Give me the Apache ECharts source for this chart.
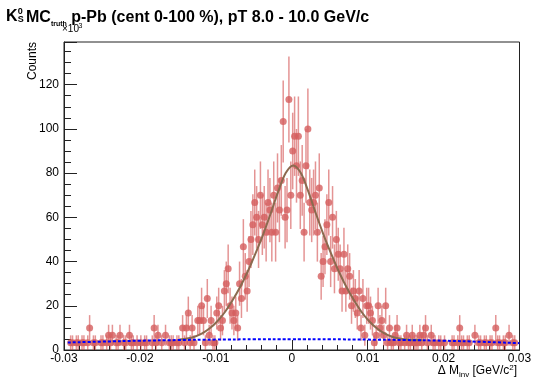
<!DOCTYPE html>
<html><head><meta charset="utf-8">
<script src="https://cdn.jsdelivr.net/npm/echarts@6/dist/echarts.min.js"></script>
<style>html,body{margin:0;padding:0;background:#fff}#c{width:535px;height:382px}</style>
</head><body><div id="c"></div>
<script>
// Histogram definition (x in GeV/c^2, counts in units of 10^3)
const X_MIN = -0.03, X_MAX = 0.03, N_BINS = 240;
const ENTRY_WEIGHT = 3.333; // counts (x10^3) carried by one entry -> error = sqrt(w * value)
const counts = [
  0, 0, 0, 3.3, 3.3, 0, 3.3, 3.3, 0, 3.3,
  3.3, 0, 3.3, 10, 0, 3.3, 3.3, 0, 0, 3.3,
  3.3, 0, 3.3, 6.7, 3.3, 6.7, 0, 3.3, 3.3, 6.7,
  0, 3.3, 3.3, 0, 6.7, 3.3, 3.3, 0, 3.3, 0,
  3.3, 0, 3.3, 3.3, 0, 0, 3.3, 10, 3.3, 6.7,
  0, 3.3, 0, 6.7, 0, 3.3, 3.3, 3.3, 0, 3.3,
  3.3, 0, 10, 3.3, 10, 16.7, 3.3, 10, 3.3, 0,
  13.3, 13.3, 20, 13.3, 3.3, 23.3, 6.7, 13.3, 3.3, 3.3,
  16.7, 20, 10, 13.3, 26.7, 30, 36.7, 20, 16.7, 13.3,
  16.7, 10, 30, 23.3, 46.7, 33.3, 26.7, 40, 50, 56.7,
  66.7, 60, 50, 70, 56.7, 60, 53.3, 66.7, 63.3, 53.3,
  70, 53.3, 73.3, 63.3, 76.7, 103.3, 60, 63.3, 113.3, 70,
  90, 96.7, 83.3, 96.7, 70, 76.7, 53.3, 83.3, 100, 66.7,
  63.3, 66.7, 70, 53.3, 73.3, 33.3, 40, 46.7, 56.7, 66.7,
  40, 60, 36.7, 50, 43.3, 36.7, 26.7, 43.3, 26.7, 36.7,
  33.3, 20, 26.7, 23.3, 16.7, 26.7, 10, 23.3, 6.7, 20,
  20, 16.7, 13.3, 3.3, 6.7, 20, 10, 13.3, 6.7, 20,
  3.3, 10, 3.3, 3.3, 6.7, 10, 3.3, 3.3, 0, 3.3,
  6.7, 3.3, 3.3, 6.7, 3.3, 3.3, 3.3, 6.7, 3.3, 6.7,
  10, 3.3, 0, 6.7, 3.3, 3.3, 0, 3.3, 3.3, 0,
  3.3, 0, 0, 0, 3.3, 3.3, 0, 3.3, 10, 3.3,
  3.3, 0, 3.3, 3.3, 0, 0, 6.7, 0, 3.3, 3.3,
  0, 3.3, 3.3, 0, 3.3, 3.3, 0, 10, 3.3, 3.3,
  0, 3.3, 3.3, 0, 6.7, 0, 3.3, 3.3, 0, 0
];
// Fit (signal + background)
const fitX = [-0.0148,-0.0138,-0.0128,-0.0118,-0.0108,-0.0098,-0.0088,-0.0078,-0.0068,-0.0058,-0.0048,-0.0038,-0.0028,-0.0018,-0.0008,0.0002,
  0.0012,0.0022,0.0032,0.0042,0.0052,0.0062,0.0072,0.0082,0.0092,0.0102,0.0112,0.0122,0.0132,0.0142,0.0152,0.0162,0.0172];
const fitY = [4.8,5.2,6.0,7.5,9.8,13.0,17.2,22.5,28.5,35.5,43.5,52.0,61.5,71.5,80.0,83.5,
  80.0,71.5,61.5,52.0,43.5,35.5,28.5,22.5,17.2,13.0,9.8,7.5,6.0,5.2,4.8,4.6,4.5];
// Background component
const bkgX = [-0.0295,-0.025,-0.02,-0.015,-0.01,-0.005,0,0.005,0.01,0.015,0.02,0.025,0.03];
const bkgY = [3.4,3.8,4.2,4.5,4.7,4.85,4.9,4.85,4.7,4.5,4.2,3.7,3.1];
// Tick labels
const xTickLabels = ['-0.03','-0.02','-0.01','0','0.01','0.02','0.03'];
const yTickLabels = ['0','20','40','60','80','100','120'];

const FONT = 'Liberation Sans, Arial, Helvetica, sans-serif';
const binW = (X_MAX - X_MIN) / N_BINS;
const hist = [];
counts.forEach((v, i) => { if (v > 0) hist.push([X_MIN + (i + 0.5) * binW, v, Math.sqrt(ENTRY_WEIGHT * v)]); });

const chart = echarts.init(document.getElementById('c'), null, {renderer: 'canvas', width: 535, height: 382});
chart.setOption({
  animation: false,
  backgroundColor: '#fff',
  grid: {left: 64, right: 15.5, top: 42, bottom: 32, show: true, borderColor: '#222', borderWidth: 1, backgroundColor: 'transparent'},
  xAxis: {
    type: 'value', min: X_MIN, max: X_MAX, interval: 0.01,
    axisLine: {show: true, onZero: false, lineStyle: {color: '#222', width: 1}},
    axisTick: {show: true, inside: true, length: 10, lineStyle: {color: '#222'}},
    minorTick: {show: true, splitNumber: 5, length: 5, lineStyle: {color: '#222'}},
    splitLine: {show: false},
    axisLabel: {margin: 3, fontSize: 12, color: '#000', fontFamily: FONT,
      formatter: v => { const k = Math.round((v - X_MIN) / 0.01); return Math.abs(v - (X_MIN + k * 0.01)) < 1e-9 ? xTickLabels[k] : ''; }}
  },
  yAxis: {
    type: 'value', min: 0, max: 139.3, interval: 20,
    axisLine: {show: true, onZero: false, lineStyle: {color: '#222', width: 1}},
    axisTick: {show: true, inside: true, length: 13, lineStyle: {color: '#222'}},
    minorTick: {show: true, splitNumber: 4, length: 7, lineStyle: {color: '#222'}},
    splitLine: {show: false},
    axisLabel: {margin: 5, fontSize: 12, color: '#000', fontFamily: FONT, showMaxLabel: false,
      formatter: v => { const k = Math.round(v / 20); return (Math.abs(v - k * 20) < 1e-6 && k < yTickLabels.length) ? yTickLabels[k] : ''; }}
  },
  graphic: [
    {type: 'text', x: 6, y: 16.5, style: {text: 'K', font: 'bold 16px ' + FONT, fill: '#000', verticalAlign: 'middle'}},
    {type: 'text', x: 17.8, y: 12, style: {text: '0', font: 'bold 9px ' + FONT, fill: '#000', verticalAlign: 'middle'}},
    {type: 'text', x: 17.8, y: 19.5, style: {text: 'S', font: 'bold 9px ' + FONT, fill: '#000', verticalAlign: 'middle'}},
    {type: 'text', x: 26, y: 18, style: {
      text: '{b|MC}{s|truth}{b| p-Pb (cent 0-100 %), pT 8.0 - 10.0 GeV/c}', verticalAlign: 'middle', fill: '#000',
      rich: {b: {font: 'bold 16px ' + FONT, lineHeight: 19, fill: '#000'},
             s: {font: 'bold 7px ' + FONT, lineHeight: 8, verticalAlign: 'bottom', fill: '#000'}}}},
    {type: 'text', x: 62, y: 29.5, style: {text: '\u00d710', font: '10px ' + FONT, fill: '#000', verticalAlign: 'middle'}},
    {type: 'text', x: 78.5, y: 26, style: {text: '3', font: '7px ' + FONT, fill: '#000', verticalAlign: 'middle'}},
    {type: 'text', x: 32.5, y: 42, rotation: Math.PI / 2, style: {text: 'Counts', font: '12px ' + FONT, fill: '#000', align: 'right', verticalAlign: 'middle'}},
    {type: 'text', x: 517, y: 371, style: {
      text: '{n|\u0394 M}{d|inv}{n| [GeV/c}{u|2}{n|]}', align: 'right', verticalAlign: 'middle', fill: '#000',
      rich: {n: {font: '12px ' + FONT, lineHeight: 15, fill: '#000'},
             d: {font: '8px ' + FONT, lineHeight: 9, verticalAlign: 'bottom', fill: '#000'},
             u: {font: '8px ' + FONT, lineHeight: 9, verticalAlign: 'top', fill: '#000'}}}}
  ],
  series: [
    {
      type: 'custom', data: hist, z: 2, clip: true,
      renderItem: (params, api) => {
        const x = api.value(0), y = api.value(1), e = api.value(2);
        const p1 = api.coord([x, Math.max(0, y - e)]);
        const p2 = api.coord([x, y + e]);
        const cs = params.coordSys;
        return {type: 'line', shape: {x1: p1[0], y1: Math.min(p1[1], cs.y + cs.height), x2: p2[0], y2: Math.max(p2[1], cs.y)},
          style: {stroke: 'rgba(205,60,60,0.55)', lineWidth: 1.5}};
      }
    },
    {
      type: 'scatter', data: hist.map(d => [d[0], d[1]]), z: 3,
      symbol: 'circle', symbolSize: 7, itemStyle: {color: '#d45e5e'}
    },
    {
      type: 'line', data: fitX.map((x, i) => [x, fitY[i]]), z: 4, showSymbol: false, smooth: 0.3,
      lineStyle: {color: '#8b6a4f', width: 2}
    },
    {
      type: 'line', data: bkgX.map((x, i) => [x, bkgY[i]]), z: 5, showSymbol: false, smooth: true,
      lineStyle: {color: '#0000ff', width: 2, type: [3, 2]}
    }
  ]
});
</script></body></html>
